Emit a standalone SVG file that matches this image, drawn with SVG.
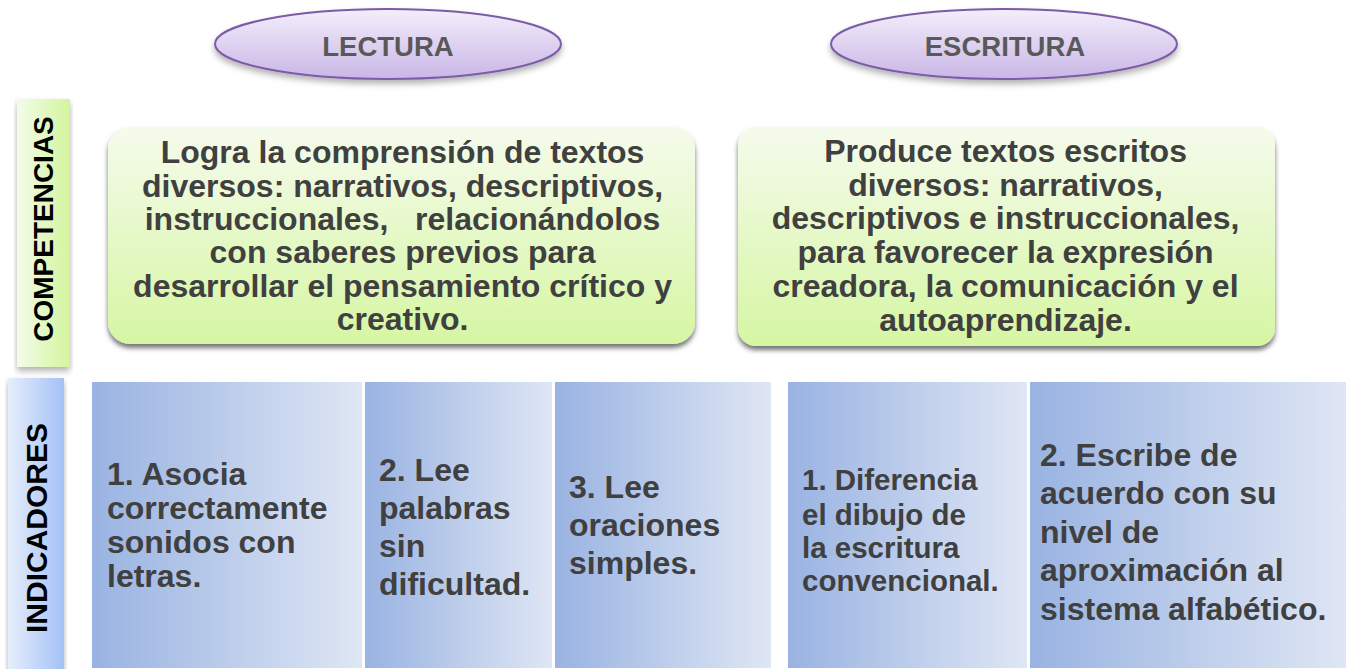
<svg xmlns="http://www.w3.org/2000/svg" width="1346" height="669" viewBox="0 0 1346 669">
<style>
.lbl{font-family:"Liberation Sans",Arial,sans-serif;font-weight:bold;}
.ell{fill:url(#gEll);stroke:#7b5ba6;stroke-width:2;filter:url(#shSoft);}
.ellT{font-size:27.5px;fill:#595959;text-anchor:middle;}
.comp{fill:url(#gGreen);filter:url(#shBox);}
.compT{font-size:32px;fill:#404040;text-anchor:middle;white-space:pre;}
.ind{fill:url(#gBlue);}
.indT{font-size:32px;fill:#404040;}
.side{font-size:28px;fill:#000;text-anchor:middle;}
</style>
<defs>
<linearGradient id="gEll" x1="0" y1="0" x2="0" y2="1">
<stop offset="0" stop-color="#f3eefb"/>
<stop offset="1" stop-color="#c9b6e6"/>
</linearGradient>
<linearGradient id="gGreen" x1="0" y1="0" x2="0" y2="1">
<stop offset="0" stop-color="#f5fbec"/>
<stop offset="1" stop-color="#d6f6a3"/>
</linearGradient>
<linearGradient id="gSideG" x1="0" y1="0" x2="1" y2="0">
<stop offset="0" stop-color="#f4fce9"/>
<stop offset="1" stop-color="#d3f59e"/>
</linearGradient>
<linearGradient id="gSideB" x1="0" y1="0" x2="1" y2="0">
<stop offset="0" stop-color="#e6eefc"/>
<stop offset="1" stop-color="#a4c1f6"/>
</linearGradient>
<linearGradient id="gBlue" x1="0" y1="0" x2="1" y2="0">
<stop offset="0" stop-color="#99b3e2"/>
<stop offset="1" stop-color="#dfe6f4"/>
</linearGradient>
<filter id="shBox" x="-5%" y="-5%" width="110%" height="115%">
<feGaussianBlur in="SourceAlpha" stdDeviation="2.5"/>
<feOffset dx="0" dy="4" result="b"/>
<feFlood flood-color="#000" flood-opacity="0.55"/>
<feComposite in2="b" operator="in"/>
<feMerge><feMergeNode/><feMergeNode in="SourceGraphic"/></feMerge>
</filter>
<filter id="shSoft" x="-5%" y="-10%" width="110%" height="130%">
<feGaussianBlur in="SourceAlpha" stdDeviation="3"/>
<feOffset dx="0" dy="4" result="b"/>
<feFlood flood-color="#000" flood-opacity="0.3"/>
<feComposite in2="b" operator="in"/>
<feMerge><feMergeNode/><feMergeNode in="SourceGraphic"/></feMerge>
</filter>
</defs>

<g id="lectura">
<ellipse class="ell" cx="388" cy="44" rx="173" ry="35"/>
<text class="lbl ellT" x="388" y="56">LECTURA</text>
</g>
<g id="escritura">
<ellipse class="ell" cx="1004" cy="44" rx="173" ry="35"/>
<text class="lbl ellT" x="1005" y="56">ESCRITURA</text>
</g>

<g id="competencias-label">
<rect x="17" y="99" width="53" height="268" fill="url(#gSideG)" filter="url(#shSoft)"/>
<text class="lbl side" transform="translate(53,229) rotate(-90)" x="0" y="0">COMPETENCIAS</text>
</g>
<g id="indicadores-label">
<rect x="8" y="378" width="56" height="295" fill="url(#gSideB)" filter="url(#shSoft)"/>
<text class="lbl side" style="font-size:30px" transform="translate(47,528) rotate(-90)" x="0" y="0">INDICADORES</text>
</g>

<g id="comp-lectura">
<rect class="comp" x="108" y="127" width="587" height="217" rx="22"/>
<text class="lbl compT" x="407">
<tspan x="407" y="163">Logra la comprensión de textos</tspan>
<tspan x="407" y="197">diversos: narrativos, descriptivos,</tspan>
<tspan x="407" y="230">instruccionales,   relacionándolos</tspan>
<tspan x="407" y="263">con saberes previos para</tspan>
<tspan x="407" y="297">desarrollar el pensamiento crítico y</tspan>
<tspan x="407" y="330">creativo.</tspan>
</text>
</g>
<g id="comp-escritura">
<rect class="comp" x="738" y="127" width="537" height="219" rx="18"/>
<text class="lbl compT" x="1010">
<tspan x="1010" y="162">Produce textos escritos</tspan>
<tspan x="1010" y="196">diversos: narrativos,</tspan>
<tspan x="1010" y="229">descriptivos e instruccionales,</tspan>
<tspan x="1010" y="263">para favorecer la expresión</tspan>
<tspan x="1010" y="297">creadora, la comunicación y el</tspan>
<tspan x="1010" y="331">autoaprendizaje.</tspan>
</text>
</g>

<g id="ind-l1">
<rect class="ind" x="92" y="382" width="270" height="286"/>
<text class="lbl indT">
<tspan x="107" y="485">1. Asocia</tspan>
<tspan x="107" y="519">correctamente</tspan>
<tspan x="107" y="553">sonidos con</tspan>
<tspan x="107" y="587">letras.</tspan>
</text>
</g>
<g id="ind-l2">
<rect class="ind" x="365" y="382" width="187" height="286"/>
<text class="lbl indT">
<tspan x="379" y="481">2. Lee</tspan>
<tspan x="379" y="519">palabras</tspan>
<tspan x="379" y="557">sin</tspan>
<tspan x="379" y="595">dificultad.</tspan>
</text>
</g>
<g id="ind-l3">
<rect class="ind" x="555" y="382" width="216" height="286"/>
<text class="lbl indT">
<tspan x="569" y="498">3. Lee</tspan>
<tspan x="569" y="536">oraciones</tspan>
<tspan x="569" y="574">simples.</tspan>
</text>
</g>
<g id="ind-e1">
<rect class="ind" x="788" y="382" width="239" height="286"/>
<text class="lbl indT" style="font-size:29.5px">
<tspan x="802" y="490">1. Diferencia</tspan>
<tspan x="802" y="525">el dibujo de</tspan>
<tspan x="802" y="558">la escritura</tspan>
<tspan x="802" y="591">convencional.</tspan>
</text>
</g>
<g id="ind-e2">
<rect class="ind" x="1030" y="382" width="316" height="286"/>
<text class="lbl indT">
<tspan x="1040" y="466">2. Escribe de</tspan>
<tspan x="1040" y="504">acuerdo con su</tspan>
<tspan x="1040" y="543">nivel de</tspan>
<tspan x="1040" y="581">aproximación al</tspan>
<tspan x="1040" y="620">sistema alfabético.</tspan>
</text>
</g>
<g id="connectors"/>
</svg>
